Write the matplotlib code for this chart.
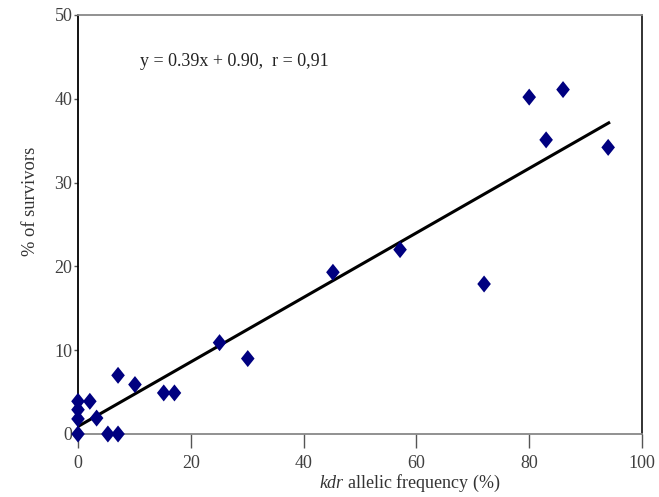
import matplotlib
matplotlib.use("Agg")
import matplotlib.pyplot as plt
import numpy as np
from matplotlib.path import Path

# Data
kdr_freq = [0, 0, 0, 0, 2.1, 3.3, 5.3, 7.1, 7.1, 10.1, 15.2, 17.1,
            25.1, 30.1, 45.2, 57.1, 72.0, 80.0, 83.0, 86.0, 94.0]
survivors = [0, 1.8, 2.9, 3.9, 3.9, 1.9, 0, 0, 7.0, 5.9, 4.9, 4.9,
             10.9, 9.0, 19.3, 22.0, 17.9, 40.2, 35.1, 41.1, 34.2]
slope = 0.385
intercept = 0.90
line_x_range = [0, 94.1]
x_ticks = [0, 20, 40, 60, 80, 100]
y_ticks = [0, 10, 20, 30, 40, 50]
equation = "y = 0.39x + 0.90,  r = 0,91"

plt.rcParams['font.family'] = ['Liberation Serif', 'DejaVu Serif']
plt.rcParams['mathtext.fontset'] = 'custom'
plt.rcParams['mathtext.it'] = 'Liberation Serif:italic'
plt.rcParams['mathtext.rm'] = 'Liberation Serif'

fig = plt.figure(figsize=(6.59, 4.97), dpi=100)
ax = fig.add_axes([78/659, 1-434/497, (642-78)/659, (434-15)/497])

diamond = Path([(0, 1), (0.8, 0), (0, -1), (-0.8, 0), (0, 1)],
               [Path.MOVETO, Path.LINETO, Path.LINETO, Path.LINETO, Path.CLOSEPOLY])

lx = np.array(line_x_range)
ax.plot(lx, slope * lx + intercept, color='black', lw=2.2, zorder=2)
ax.scatter(kdr_freq, survivors, marker=diamond, s=150, color='#000080',
           edgecolors='none', zorder=3, clip_on=False)

ax.set_xlim(0, 100)
ax.set_ylim(0, 50)
ax.set_xticks(x_ticks)
ax.set_yticks(y_ticks)

tick_color = '#404040'
ax.tick_params(axis='x', direction='out', length=10, width=1, color='#555555',
               labelsize=13, labelcolor=tick_color, pad=5)
ax.tick_params(axis='y', direction='out', length=3, width=1, color='#555555',
               labelsize=13, labelcolor=tick_color, pad=1)

ax.spines['left'].set_color('black')
ax.spines['left'].set_linewidth(1.3)
ax.spines['right'].set_color('#222222')
ax.spines['right'].set_linewidth(1.3)
ax.spines['top'].set_color('#888888')
ax.spines['top'].set_linewidth(1.3)
ax.spines['bottom'].set_color('#888888')
ax.spines['bottom'].set_linewidth(1.3)

ax.set_ylabel('% of survivors', fontsize=13.3, color='#333333', va='center')
ax.yaxis.set_label_coords(-0.085, 0.554)
ax.set_xlabel(r'$\it{kdr}$ allelic frequency (%)', fontsize=13, color='#333333', va='center')
ax.xaxis.set_label_coords(0.589, -0.117)

ax.text(11, 44.5, equation, fontsize=13, color='#222222', va='center', ha='left')

fig.savefig('out.png', dpi=100)
